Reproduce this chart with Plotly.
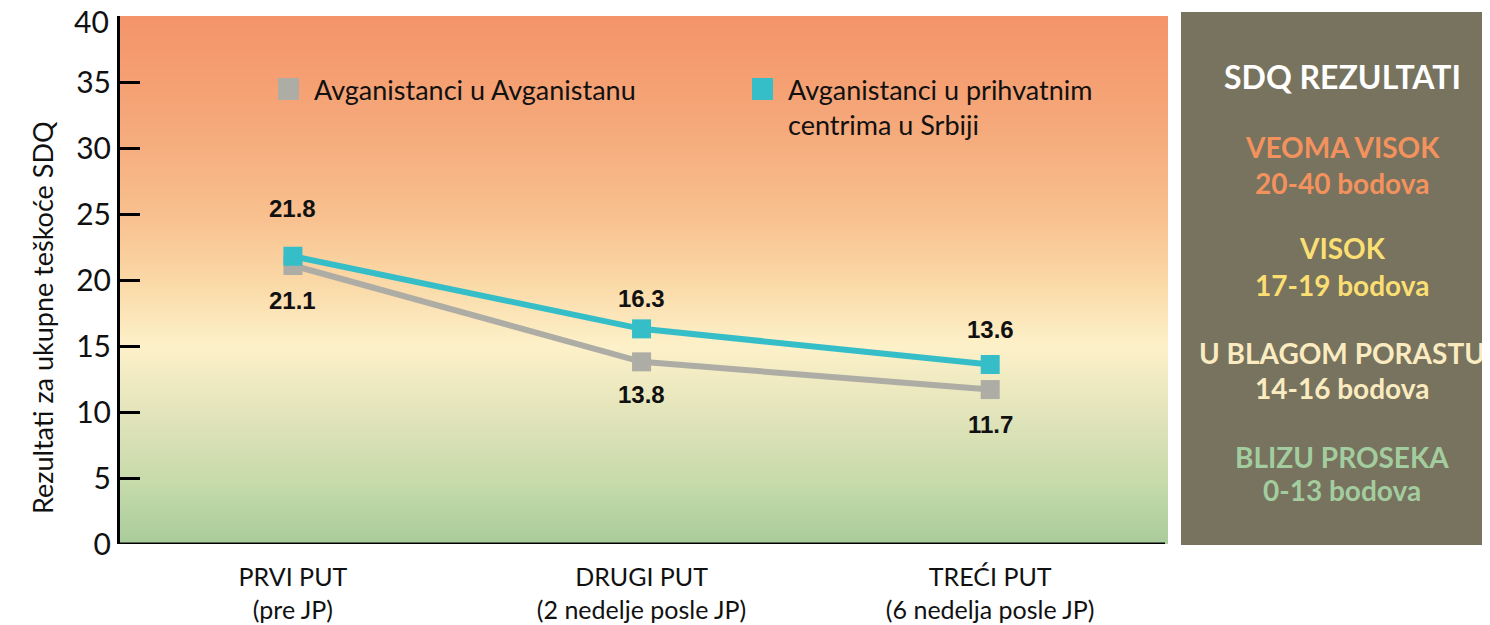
import plotly.graph_objects as go

categories = ["PRVI PUT<br>(pre JP)", "DRUGI PUT<br>(2 nedelje posle JP)", "TREĆI PUT<br>(6 nedelja posle JP)"]
afg_in_afg = [21.1, 13.8, 11.7]
afg_in_srb = [21.8, 16.3, 13.6]
series_names = ["Avganistanci u Avganistanu", "Avganistanci u prihvatnim<br>centrima u Srbiji"]
y_ticks = [0, 5, 10, 15, 20, 25, 30, 35, 40]
y_title = "Rezultati za ukupne teškoće SDQ"
panel_title = "SDQ REZULTATI"
panel_items = [("VEOMA VISOK", "20-40 bodova", "#F4925E"),
               ("VISOK", "17-19 bodova", "#FBDF73"),
               ("U BLAGOM PORASTU", "14-16 bodova", "#FBEBC0"),
               ("BLIZU PROSEKA", "0-13 bodova", "#A3CD9F")]

GRAY = "#ADADA5"
TEAL = "#35BEC8"
FONT = "Lato"
xs = [0, 1, 2]

fig = go.Figure()

# gradient background
levels = [i * 0.5 for i in range(0, 81)]
fig.add_trace(go.Heatmap(
    x=[-0.6, 2.6], y=levels, z=[[v, v] for v in levels],
    colorscale=[[0.0, "#A9CC9A"], [0.125, "#C8DBAB"], [0.25, "#E3E4BB"],
                [0.375, "#FDF1C9"], [0.5, "#FAD8A6"], [0.625, "#F8C08E"],
                [0.75, "#F6AE7F"], [0.875, "#F5A073"], [1.0, "#F4946A"]],
    zmin=0, zmax=40, showscale=False, hoverinfo="skip", zsmooth="best"))

fig.add_trace(go.Scatter(
    x=xs, y=afg_in_afg, mode="lines+markers", name=series_names[0],
    line=dict(color=GRAY, width=6), marker=dict(symbol="square", size=19, color=GRAY),
    showlegend=False))
fig.add_trace(go.Scatter(
    x=xs, y=afg_in_srb, mode="lines+markers", name=series_names[1],
    line=dict(color=TEAL, width=6), marker=dict(symbol="square", size=19, color=TEAL),
    showlegend=False))

# data labels
for xv, v, sh in zip(xs, afg_in_afg, [-35, -33, -35]):
    fig.add_annotation(x=xv, y=v, yshift=sh, text=f"<b>{v:.1f}</b>", showarrow=False,
                       font=dict(family="Liberation Sans", size=24, color="#111"))
for xv, v, sh in zip(xs, afg_in_srb, [48, 30, 35]):
    fig.add_annotation(x=xv, y=v, yshift=sh, text=f"<b>{v:.1f}</b>", showarrow=False,
                       font=dict(family="Liberation Sans", size=24, color="#111"))

W0, H0 = 1048, 528
def px(p):
    return (p - 120) / W0
def py(p):
    return (544 - p) / H0

# y tick labels: top one drawn as annotation nudged down so it stays inside the page
tick_text = [str(t) for t in y_ticks]
top_label = tick_text[-1]
tick_text[-1] = ""
fig.add_annotation(xref="paper", yref="y", x=px(111), y=y_ticks[-1], yshift=-5,
                   text=top_label, showarrow=False, xanchor="right", yanchor="middle",
                   font=dict(family=FONT, size=30, color="#111"))

# custom legend
leg = [(278, 89, GRAY, series_names[0]), (752, 89, TEAL, series_names[1])]
for x0, yc, col, name in leg:
    fig.add_shape(type="rect", xref="paper", yref="paper", x0=px(x0), x1=px(x0 + 21),
                  y0=py(yc + 11), y1=py(yc - 11), fillcolor=col, line=dict(width=0))
    fig.add_annotation(xref="paper", yref="paper", x=px(x0 + 34), y=py(yc - 18),
                       text=name, showarrow=False, xanchor="left", yanchor="top",
                       align="left", font=dict(family=FONT, size=27, color="#111"))

# y axis title
fig.add_annotation(xref="paper", yref="paper", x=px(42), y=py(318), text=y_title,
                   textangle=-90, showarrow=False, xanchor="center", yanchor="middle",
                   font=dict(family=FONT, size=27, color="#111"))

# right panel
fig.add_shape(type="rect", xref="paper", yref="paper", x0=px(1181), x1=px(1500),
              y0=py(545), y1=py(12), fillcolor="#77735E", line=dict(width=0), layer="below")
cx = px(1342)
fig.add_annotation(xref="paper", yref="paper", x=cx, y=py(77), text=f"<b>{panel_title}</b>",
                   showarrow=False, xanchor="center", yanchor="middle",
                   font=dict(family=FONT, size=32, color="white"))
ys = [(147, 183), (248, 285), (353, 388), (457, 490)]
for (a, b, col), (y1, y2) in zip(panel_items, ys):
    fig.add_annotation(xref="paper", yref="paper", x=cx, y=py(y1), text=f"<b>{a}</b>",
                       showarrow=False, xanchor="center", yanchor="middle",
                       font=dict(family=FONT, size=28, color=col))
    fig.add_annotation(xref="paper", yref="paper", x=cx, y=py(y2), text=f"<b>{b}</b>",
                       showarrow=False, xanchor="center", yanchor="middle",
                       font=dict(family=FONT, size=28, color=col))

fig.update_layout(
    width=1482, height=617,
    margin=dict(l=112, r=322, t=8, b=81, autoexpand=False),
    paper_bgcolor="white", plot_bgcolor="white",
    xaxis=dict(range=[-0.496, 2.51], tickvals=xs, ticktext=categories, showgrid=False,
               zeroline=False, showline=False, ticks="", ticklabelstandoff=16,
               tickfont=dict(family=FONT, size=25, color="#111")),
    yaxis=dict(range=[0, 40.001], tickvals=y_ticks, ticktext=tick_text, showgrid=False,
               zeroline=False, showline=True, linecolor="black", linewidth=3,
               ticks="inside", ticklen=20, tickwidth=3, tickcolor="black",
               tickfont=dict(family=FONT, size=30, color="#111")),
)
# x axis baseline
fig.add_shape(type="line", xref="paper", yref="y", x0=0, x1=px(1165), y0=0, y1=0,
              line=dict(color="black", width=3))

fig.write_html("out.html")
